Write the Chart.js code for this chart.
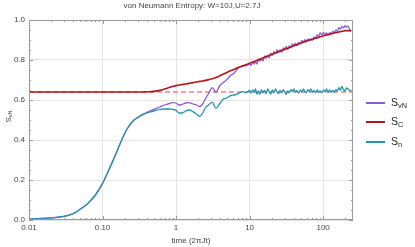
<!DOCTYPE html>
<html lang="en">
<head>
    <meta charset="UTF-8">
    <title>von Neumann Entropy</title>
    <script src="https://cdn.jsdelivr.net/npm/chart.js"></script>
    <style>
        body { margin: 0; background: #fff; }
        .wrap { position: relative; width: 415px; height: 247px; font-family: "Liberation Sans", Arial, sans-serif; color: #444; }
        canvas { position: absolute; left: 0; top: 0; }
        .title { position: absolute; top: 1px; left: 92px; width: 200px; text-align: center; font-size: 8px; color: #444; white-space: nowrap; }
        .xtitle { position: absolute; top: 236px; left: 141px; width: 100px; text-align: center; font-size: 8px; color: #444; }
        .ytitle { position: absolute; left: 2px; top: 112px; font-size: 8px; color: #444; transform: rotate(-90deg); transform-origin: 50% 50%; }
        .ytitle sub, .legend sub { font-size: 70%; vertical-align: -0.25em; line-height: 0; }
        .legend { position: absolute; left: 366px; top: 96px; }
        .legend div { position: relative; height: 19.3px; font-size: 10.5px; color: #222; }
        .legend i { position: absolute; left: 0; top: 6px; width: 19px; height: 2px; }
        .legend span { position: absolute; left: 25px; top: 0; white-space: nowrap; }
    </style>
</head>
<body>
    <div class="wrap">
        <canvas id="entropyChart" width="415" height="247"></canvas>
        <div class="title">von Neumann Entropy: W=10J,U=2.7J</div>
        <div class="xtitle">time (2&pi;Jt)</div>
        <div class="ytitle">S<sub>vN</sub></div>
        <div class="legend">
            <div><i style="background:#8b5bd6"></i><span>S<sub>vN</sub></span></div>
            <div><i style="background:#b3141b"></i><span>S<sub>C</sub></span></div>
            <div><i style="background:#2594ad"></i><span>S<sub>n</sub></span></div>
        </div>
    </div>

    <script>
        // time points (2 pi J t)
        const time = [0.01, 0.015, 0.02, 0.03, 0.04, 0.05, 0.06, 0.07, 0.08, 0.1,
            0.12, 0.14, 0.16, 0.19, 0.22, 0.26, 0.3, 0.35, 0.4, 0.5,
            0.6, 0.7, 0.8, 0.9, 1.0, 1.1, 1.2, 1.35, 1.5, 1.7,
            1.9, 2.1, 2.3, 2.5, 2.8, 3.1, 3.5, 3.9, 4.4, 4.9,
            5.5, 6.2, 7.0, 8.0, 9.0,
            10, 10.5, 11, 11.5, 12, 12.6, 13.2, 13.8, 14.5, 15.2,
            16, 16.8, 17.6, 18.5, 19.4, 20.4, 21.4, 22.5, 23.6, 24.8,
            26, 27.3, 28.7, 30, 31.5, 33, 34.7, 36.4, 38.2, 40,
            42, 44, 46.5, 49, 51.5, 54, 56.5, 59, 62, 65,
            68, 71.5, 75, 79, 83, 87, 91, 96, 101, 106,
            111, 117, 123, 129, 135, 142, 149, 156, 164, 172,
            180, 189, 198, 208, 218, 229, 240];

        const sVN = [0.005, 0.008, 0.011, 0.018, 0.032, 0.055, 0.075, 0.10, 0.125, 0.183,
            0.245, 0.30, 0.35, 0.415, 0.46, 0.495, 0.512, 0.528, 0.538, 0.553,
            0.565, 0.575, 0.582, 0.587, 0.585, 0.575, 0.578, 0.585, 0.587, 0.580,
            0.575, 0.567, 0.580, 0.605, 0.635, 0.662, 0.640, 0.670, 0.688, 0.702,
            0.722, 0.735, 0.760, 0.770, 0.772,
            0.779, 0.772, 0.792, 0.780, 0.791, 0.780, 0.805, 0.794, 0.805, 0.794,
            0.820, 0.809, 0.822, 0.811, 0.834, 0.823, 0.842, 0.831, 0.850, 0.839,
            0.852, 0.839, 0.860, 0.853, 0.868, 0.853, 0.870, 0.861, 0.880, 0.871,
            0.884, 0.871, 0.888, 0.881, 0.898, 0.889, 0.902, 0.890, 0.905, 0.897,
            0.907, 0.898, 0.916, 0.909, 0.925, 0.917, 0.936, 0.926, 0.937, 0.927,
            0.935, 0.925, 0.937, 0.931, 0.943, 0.937, 0.951, 0.944, 0.962, 0.954,
            0.968, 0.961, 0.970, 0.965, 0.969, 0.954, 0.944];

        const sC = [0.64, 0.64, 0.64, 0.64, 0.64, 0.64, 0.64, 0.64, 0.64, 0.64,
            0.64, 0.64, 0.64, 0.64, 0.64, 0.64, 0.64, 0.640, 0.641, 0.643,
            0.648, 0.655, 0.662, 0.668, 0.672, 0.675, 0.677, 0.680, 0.683, 0.687,
            0.690, 0.693, 0.695, 0.698, 0.702, 0.706, 0.712, 0.720, 0.730, 0.738,
            0.746, 0.754, 0.762, 0.770, 0.777,
            0.784, 0.787, 0.790, 0.792, 0.795, 0.798, 0.801, 0.804, 0.807, 0.810,
            0.814, 0.817, 0.820, 0.823, 0.826, 0.829, 0.832, 0.835, 0.838, 0.841,
            0.844, 0.847, 0.850, 0.853, 0.856, 0.859, 0.862, 0.865, 0.868, 0.871,
            0.874, 0.877, 0.880, 0.883, 0.886, 0.889, 0.892, 0.894, 0.897, 0.899,
            0.901, 0.904, 0.906, 0.909, 0.911, 0.913, 0.916, 0.918, 0.921, 0.923,
            0.925, 0.927, 0.929, 0.931, 0.933, 0.935, 0.937, 0.938, 0.940, 0.942,
            0.943, 0.945, 0.946, 0.947, 0.947, 0.946, 0.944];

        const sN = [0.005, 0.008, 0.011, 0.018, 0.032, 0.055, 0.075, 0.10, 0.125, 0.183,
            0.245, 0.30, 0.35, 0.415, 0.46, 0.495, 0.512, 0.525, 0.535, 0.545,
            0.553, 0.555, 0.555, 0.553, 0.548, 0.535, 0.535, 0.545, 0.550, 0.542,
            0.530, 0.518, 0.535, 0.560, 0.578, 0.588, 0.558, 0.580, 0.605, 0.610,
            0.622, 0.625, 0.632, 0.642, 0.636,
            0.648, 0.634, 0.650, 0.638, 0.655, 0.630, 0.645, 0.628, 0.652, 0.636,
            0.648, 0.632, 0.655, 0.640, 0.630, 0.650, 0.636, 0.656, 0.640, 0.632,
            0.648, 0.636, 0.652, 0.640, 0.628, 0.646, 0.636, 0.652, 0.642, 0.656,
            0.640, 0.648, 0.634, 0.650, 0.640, 0.655, 0.642, 0.636, 0.652, 0.642,
            0.656, 0.640, 0.648, 0.636, 0.650, 0.640, 0.646, 0.636, 0.650, 0.642,
            0.655, 0.640, 0.650, 0.638, 0.648, 0.640, 0.652, 0.644, 0.662, 0.648,
            0.668, 0.652, 0.645, 0.660, 0.655, 0.648, 0.645];

        // asymptotic value shown as dashed line
        const limitTime = [0.01, 255];
        const limitValue = [0.64, 0.64];

        const xTicks = [0.01, 0.1, 1, 10, 100];
        const xTickLabels = ['0.01', '0.10', '1', '10', '100'];

        function pts(xs, ys) {
            return xs.map((x, i) => ({ x: x, y: ys[i] }));
        }

        // Mathematica-like frame with inward ticks
        const framePlugin = {
            id: 'frame',
            afterDatasetsDraw(chart) {
                const { ctx, chartArea: a, scales: { x, y } } = chart;
                ctx.save();
                ctx.strokeStyle = '#9a9a9a';
                ctx.lineWidth = 1;
                ctx.strokeRect(a.left + 0.5, a.top + 0.5, a.right - a.left - 1, a.bottom - a.top - 1);
                ctx.beginPath();
                for (let d = -2; d <= 2; d++) {
                    for (let m = 1; m <= 9; m++) {
                        const v = m * Math.pow(10, d);
                        if (v < x.min || v > x.max) continue;
                        const px = Math.round(x.getPixelForValue(v)) + 0.5;
                        const len = m === 1 ? 4 : 2;
                        ctx.moveTo(px, a.bottom); ctx.lineTo(px, a.bottom - len);
                        ctx.moveTo(px, a.top); ctx.lineTo(px, a.top + len);
                    }
                }
                for (let k = 0; k <= 20; k++) {
                    const py = Math.round(y.getPixelForValue(k * 0.05)) + 0.5;
                    const len = k % 4 === 0 ? 4 : 2;
                    ctx.moveTo(a.left, py); ctx.lineTo(a.left + len, py);
                    ctx.moveTo(a.right, py); ctx.lineTo(a.right - len, py);
                }
                ctx.stroke();
                ctx.restore();
            }
        };

        const ctx = document.getElementById('entropyChart').getContext('2d');
        const chart = new Chart(ctx, {
            type: 'line',
            data: {
                datasets: [
                    {
                        label: 'Sn',
                        data: pts(time, sN),
                        borderColor: '#2594ad',
                        borderWidth: 1.3
                    },
                    {
                        label: 'SC',
                        data: pts(time, sC),
                        borderColor: '#b3141b',
                        borderWidth: 1.6
                    },
                    {
                        label: 'SvN',
                        data: pts(time, sVN),
                        borderColor: '#8b5bd6',
                        borderWidth: 1.3
                    },
                    {
                        label: 'limit',
                        data: pts(limitTime, limitValue),
                        borderColor: '#e58585',
                        borderWidth: 1.3,
                        borderDash: [5, 3]
                    }
                ]
            },
            options: {
                responsive: false,
                animation: false,
                devicePixelRatio: 1,
                layout: { padding: { left: 0, right: 62, top: 20, bottom: 0 } },
                elements: {
                    point: { radius: 0 },
                    line: { cubicInterpolationMode: 'monotone', fill: false }
                },
                plugins: {
                    legend: { display: false },
                    tooltip: { enabled: false }
                },
                scales: {
                    x: {
                        type: 'logarithmic',
                        min: 0.01,
                        max: 255,
                        afterBuildTicks: s => { s.ticks = xTicks.map(v => ({ value: v })); },
                        afterFit: s => { s.height = 27; },
                        grid: { color: '#e4e4e4', drawTicks: false },
                        border: { display: false },
                        ticks: {
                            padding: 3,
                            maxRotation: 0,
                            autoSkip: false,
                            color: '#444',
                            font: { family: 'Liberation Sans', size: 8 },
                            callback: (v) => {
                                const i = xTicks.indexOf(v);
                                return i >= 0 ? xTickLabels[i] : '';
                            }
                        }
                    },
                    y: {
                        min: 0,
                        max: 1,
                        afterFit: s => { s.width = 29; },
                        grid: { color: '#e4e4e4', drawTicks: false },
                        border: { display: false },
                        ticks: {
                            stepSize: 0.2,
                            padding: 4,
                            color: '#444',
                            font: { family: 'Liberation Sans', size: 8 },
                            callback: v => v.toFixed(1)
                        }
                    }
                }
            },
            plugins: [framePlugin]
        });
    </script>
</body>
</html>
